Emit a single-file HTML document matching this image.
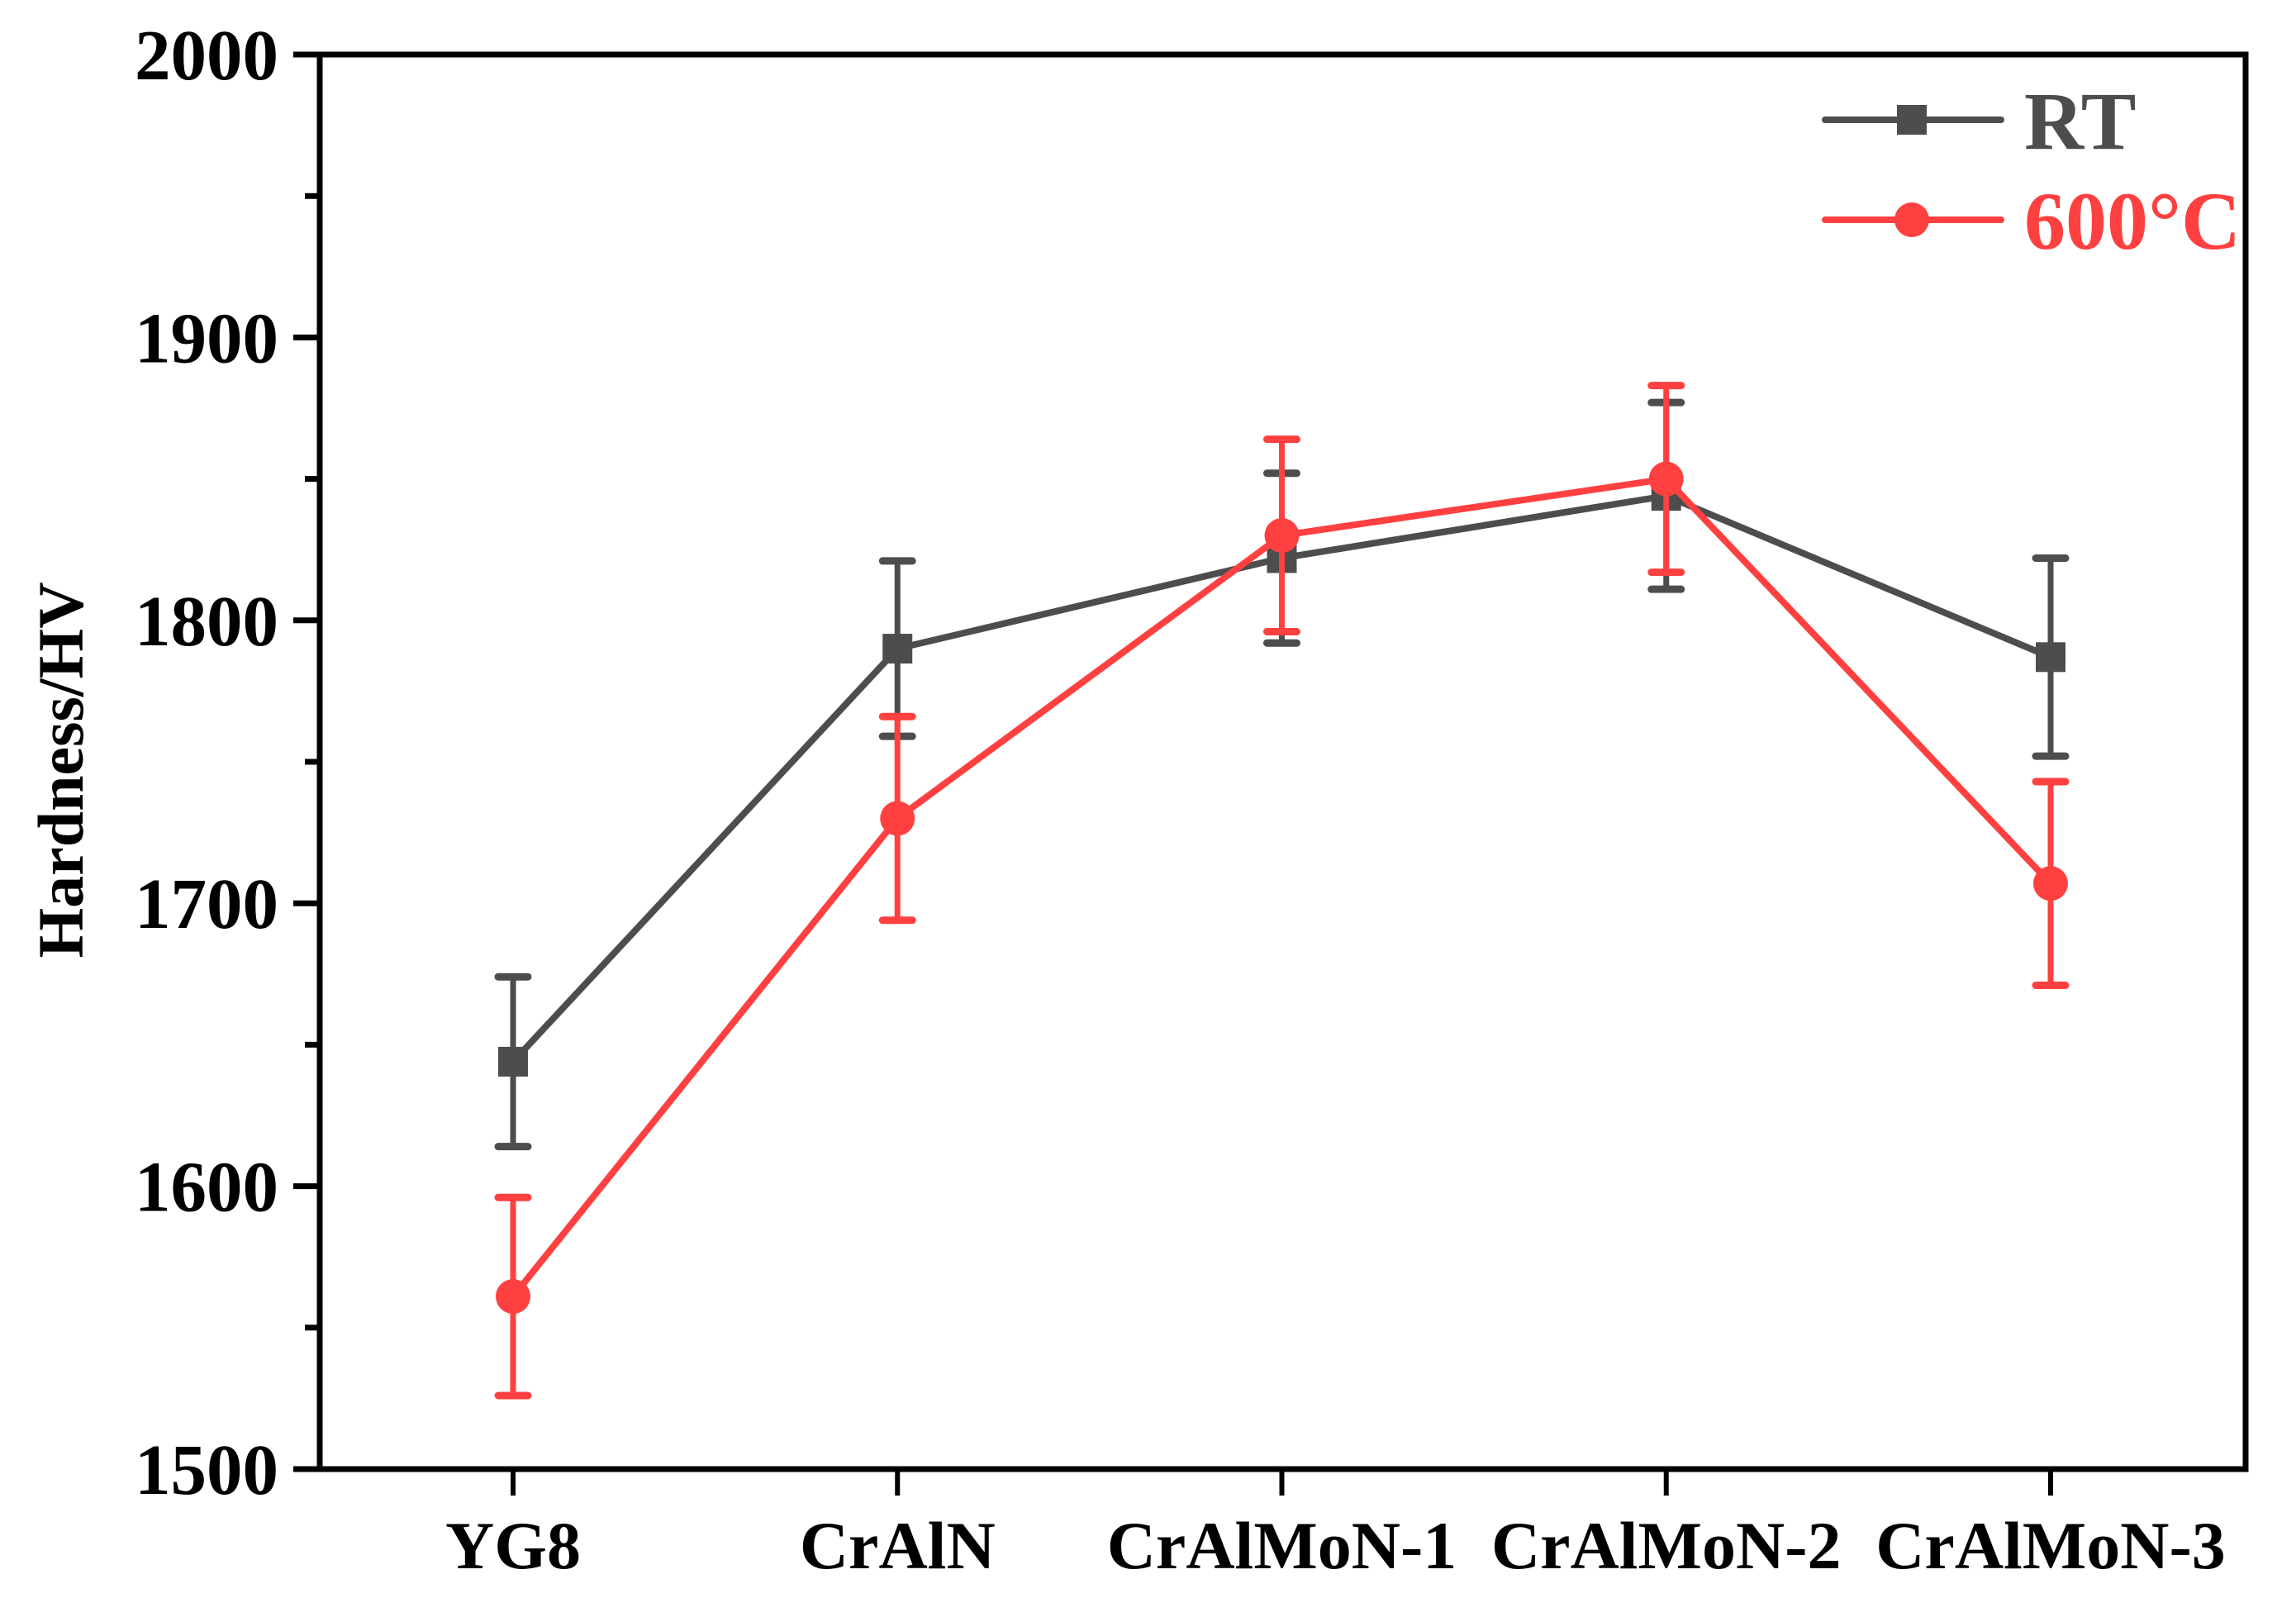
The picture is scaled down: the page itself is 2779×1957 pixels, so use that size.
<!DOCTYPE html>
<html><head><meta charset="utf-8"><style>
html,body{margin:0;padding:0;background:#fff;}
svg{display:block;}
text{font-family:"Liberation Serif",serif;font-weight:bold;}
</style></head><body>
<svg id="chart" width="2779" height="1957" viewBox="0 0 2779 1957" xmlns="http://www.w3.org/2000/svg">
<g id="axes"></g>
<g id="series"></g>
<g id="legend">
  <line x1="2209" y1="145" x2="2422" y2="145" stroke="#4d4d4d" stroke-width="8" stroke-linecap="round"/>
  <rect x="2296" y="127" width="36" height="36" fill="#4d4d4d"/>
  <text x="2450" y="180" font-size="100" fill="#4d4d4d">RT</text>
  <line x1="2209" y1="266" x2="2422" y2="266" stroke="#ff4040" stroke-width="8" stroke-linecap="round"/>
  <circle cx="2314" cy="266" r="21" fill="#ff4040"/>
  <text x="2450" y="301" font-size="100" fill="#ff4040">600°C</text>
</g>
</svg>
<script>
const categories = ["YG8","CrAlN","CrAlMoN-1","CrAlMoN-2","CrAlMoN-3"];
const rtValues = [1644,1790,1822,1844,1787];
const rtErrors = [30,31,30,33,35];
const hotValues = [1561,1730,1830,1850,1707];
const hotErrors = [35,36,34,33,36];
const yTicks = [1500,1600,1700,1800,1900,2000];

const L=387,R=2718,T=66,B=1778,yMin=1500,yMax=2000;
const xPos=i=>621+i*465.25;
const yPos=v=>B-(v-yMin)/(yMax-yMin)*(B-T);
const NS="http://www.w3.org/2000/svg";
function mk(tag,attrs,parent){const e=document.createElementNS(NS,tag);for(const k in attrs)e.setAttribute(k,attrs[k]);parent.appendChild(e);return e;}
const axes=document.getElementById('axes');
const series=document.getElementById('series');

let frame=mk('rect',{x:L,y:T,width:R-L,height:B-T,fill:'none',stroke:'#000','stroke-width':7},axes);



yTicks.forEach((v,i)=>{
  let t=mk('line',{x1:L-32,x2:L,y1:yPos(v),y2:yPos(v),stroke:'#000','stroke-width':7},axes);
  
  
  let lb=mk('text',{x:L-50,y:yPos(v)+30,'font-size':87,'text-anchor':'end',fill:'#000'},axes);
  lb.textContent=v;
  
  
  if(i<yTicks.length-1){
    const m=(v+yTicks[i+1])/2;
    let mt=mk('line',{x1:L-18,x2:L,y1:yPos(m),y2:yPos(m),stroke:'#000','stroke-width':7},axes);
    
    
  }
});
categories.forEach((c,i)=>{
  let t=mk('line',{x1:xPos(i),x2:xPos(i),y1:B,y2:B+32,stroke:'#000','stroke-width':6},axes);
  
  
  let lb=mk('text',{x:xPos(i),y:B+120,'font-size':82,'text-anchor':'middle',fill:'#000'},axes);
  lb.textContent=c;
  
  
});
let yt=mk('text',{x:0,y:0,'font-size':78,'text-anchor':'middle',fill:'#000',transform:'translate(100,932) rotate(-90)'},axes);
yt.textContent='Hardness/HV';



function drawSeries(vals,errs,color,kind,name){
  const g=mk('g',{},series);
  
  
  const pts=vals.map((v,i)=>xPos(i)+','+yPos(v)).join(' ');
  let pl=mk('polyline',{points:pts,fill:'none',stroke:color,'stroke-width':8,'stroke-linejoin':'round'},g);
  
  
  vals.forEach((v,i)=>{
    const x=xPos(i),y=yPos(v);
    if(kind==='square'){
      let m=mk('rect',{x:x-18,y:y-18,width:36,height:36,fill:color},g);
      
      
    } else {
      let m=mk('circle',{cx:x,cy:y,r:21,fill:color},g);
      
      
    }
    const y1=yPos(v+errs[i]),y2=yPos(v-errs[i]);
    let e=mk('path',{d:`M${x},${y1}V${y2}`,stroke:color,'stroke-width':7,fill:'none'},g);
    
    
    let c=mk('path',{d:`M${x-18},${y1}H${x+18}M${x-18},${y2}H${x+18}`,stroke:color,'stroke-width':9,fill:'none','stroke-linecap':'round'},g);
    
    
  });
}
drawSeries(rtValues,rtErrors,'#4d4d4d','square','rt');
drawSeries(hotValues,hotErrors,'#ff4040','circle','600c');
</script>
</body></html>
